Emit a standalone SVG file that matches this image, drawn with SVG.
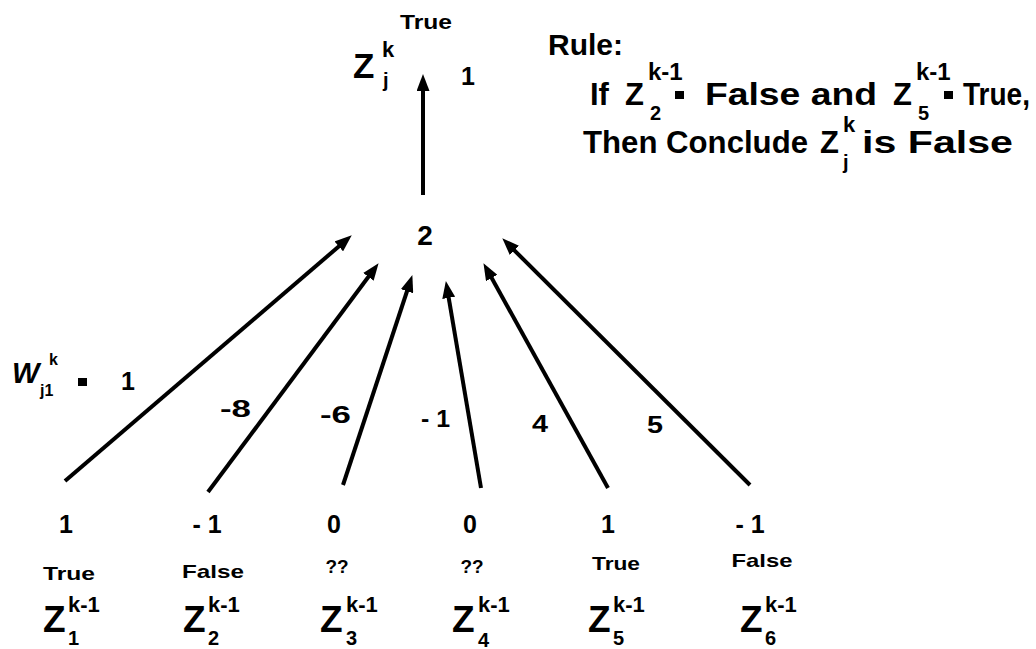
<svg xmlns="http://www.w3.org/2000/svg" width="1036" height="649" viewBox="0 0 1036 649">
<style>
text{font-family:"Liberation Sans",Arial,Helvetica,sans-serif;font-weight:bold;fill:#000}
.z{font-size:37px}
.zt{font-size:35px}
.sup{font-size:22px}
.sub{font-size:20px}
.val{font-size:25px}
.lab{font-size:19px}
.w{font-size:24px}
.rule{font-size:31px}
.rsup{font-size:24px}
.c{text-anchor:middle}
.conn line{stroke:#000;stroke-width:4;marker-end:url(#ah)}
</style>
<defs>
<marker id="ah" markerUnits="userSpaceOnUse" markerWidth="17" markerHeight="13" refX="6" refY="6.5" orient="auto">
<path d="M0,0 L17,6.5 L0,13 z" fill="#000"/>
</marker>
</defs>
<rect width="1036" height="649" fill="#fff"/>

<g id="connectors" class="conn">
<line x1="65" y1="481" x2="343.4" y2="242.5"/>
<line x1="208" y1="492" x2="372" y2="272"/>
<line x1="343" y1="485" x2="408.9" y2="285.5"/>
<line x1="481" y1="488" x2="447.7" y2="291.9"/>
<line x1="608" y1="488" x2="488.8" y2="272.8"/>
<line x1="750" y1="485" x2="510.1" y2="246.1"/>
<line x1="423" y1="195" x2="423" y2="85"/>
</g>

<g id="output">
<text x="426" y="29" class="c" font-size="21" textLength="52" lengthAdjust="spacingAndGlyphs">True</text>
<text x="353" y="78" class="zt">Z</text>
<text x="382" y="57" class="sup">k</text>
<text x="383" y="87" class="sub">j</text>
<text x="461" y="85" class="val">1</text>
</g>

<g id="sum">
<text x="425" y="245" class="c" font-size="28">2</text>
</g>

<g id="rule">
<text x="548" y="55" font-size="30">Rule:</text>
<text x="590" y="105" class="rule">If</text>
<text x="625" y="105" class="rule">Z</text>
<text x="648" y="80" class="rsup">k-1</text>
<text x="650" y="120" class="sub">2</text>
<rect x="675" y="91" width="9" height="8"/>
<text x="705" y="105" class="rule" textLength="172" lengthAdjust="spacingAndGlyphs">False and</text>
<text x="893" y="105" class="rule">Z</text>
<text x="916" y="80" class="rsup">k-1</text>
<text x="918" y="120" class="sub">5</text>
<rect x="944" y="91" width="9" height="8"/>
<text x="963" y="105" class="rule" textLength="67" lengthAdjust="spacingAndGlyphs">True,</text>
<text x="583" y="153" class="rule" textLength="225" lengthAdjust="spacingAndGlyphs">Then Conclude</text>
<text x="820" y="153" class="rule">Z</text>
<text x="843" y="132" class="sup">k</text>
<text x="843" y="169" class="sub">j</text>
<text x="862" y="153" class="rule" textLength="151" lengthAdjust="spacingAndGlyphs">is False</text>
</g>

<g id="weights">
<text x="12" y="383" font-size="29" font-style="italic">W</text>
<text x="49" y="365" font-size="16">k</text>
<text x="40" y="396" font-size="16">j1</text>
<rect x="78" y="378" width="9" height="8"/>
<text x="121" y="390" class="val">1</text>
<text x="220" y="417" class="w" textLength="31" lengthAdjust="spacingAndGlyphs">-8</text>
<text x="320" y="423" class="w" textLength="31" lengthAdjust="spacingAndGlyphs">-6</text>
<text x="421" y="427" class="w" textLength="29" lengthAdjust="spacingAndGlyphs">- 1</text>
<text x="532" y="432" class="w" textLength="16" lengthAdjust="spacingAndGlyphs">4</text>
<text x="647" y="433" class="w" textLength="16" lengthAdjust="spacingAndGlyphs">5</text>
</g>

<g id="in1">
<text x="66" y="533" class="val c">1</text>
<text x="69" y="580" class="lab c" textLength="52" lengthAdjust="spacingAndGlyphs">True</text>
<text x="43" y="632" class="z">Z</text>
<text x="68" y="612" class="sup">k-1</text>
<text x="68" y="645" class="sub">1</text>
</g>
<g id="in2">
<text x="207" y="533" class="val c">- 1</text>
<text x="213" y="578" class="lab c" textLength="62" lengthAdjust="spacingAndGlyphs">False</text>
<text x="183" y="632" class="z">Z</text>
<text x="208" y="612" class="sup">k-1</text>
<text x="208" y="645" class="sub">2</text>
</g>
<g id="in3">
<text x="334" y="533" class="val c">0</text>
<text x="337" y="573" class="lab c">??</text>
<text x="320" y="632" class="z">Z</text>
<text x="346" y="612" class="sup">k-1</text>
<text x="346" y="645" class="sub">3</text>
</g>
<g id="in4">
<text x="470" y="533" class="val c">0</text>
<text x="472" y="573" class="lab c">??</text>
<text x="452" y="632" class="z">Z</text>
<text x="478" y="612" class="sup">k-1</text>
<text x="478" y="647" class="sub">4</text>
</g>
<g id="in5">
<text x="608" y="533" class="val c">1</text>
<text x="616" y="570" class="lab c" textLength="48" lengthAdjust="spacingAndGlyphs">True</text>
<text x="588" y="632" class="z">Z</text>
<text x="613" y="612" class="sup">k-1</text>
<text x="613" y="645" class="sub">5</text>
</g>
<g id="in6">
<text x="750" y="533" class="val c">- 1</text>
<text x="762" y="567" class="lab c" textLength="61" lengthAdjust="spacingAndGlyphs">False</text>
<text x="740" y="632" class="z">Z</text>
<text x="765" y="612" class="sup">k-1</text>
<text x="765" y="645" class="sub">6</text>
</g>
</svg>
